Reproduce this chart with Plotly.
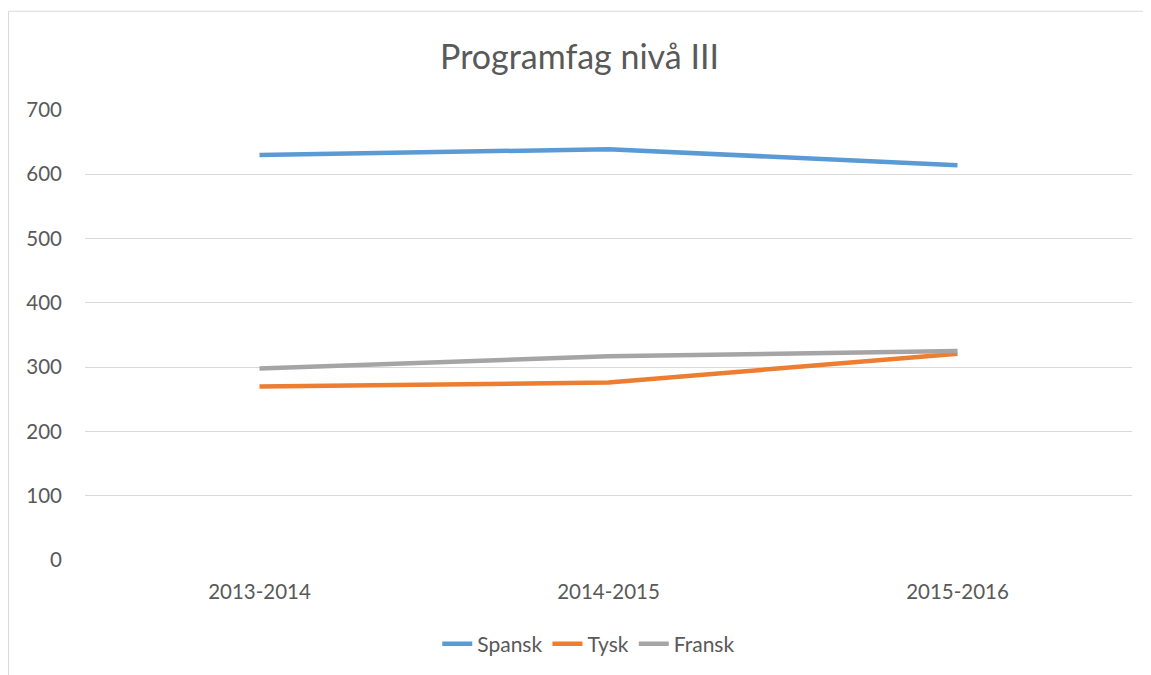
import plotly.graph_objects as go

categories = ["2013-2014", "2014-2015", "2015-2016"]
spansk = [630, 639, 614]
tysk = [270, 276, 321]
fransk = [298, 317, 325]
y_ticks = [0, 100, 200, 300, 400, 500, 600, 700]

colors = {"Spansk": "#5B9BD5", "Tysk": "#ED7D31", "Fransk": "#A5A5A5"}
FONT = "Lato, 'Open Sans', sans-serif"

fig = go.Figure()
for name, vals in [("Spansk", spansk), ("Tysk", tysk), ("Fransk", fransk)]:
    fig.add_trace(go.Scatter(x=categories, y=vals, mode="lines", name=name,
                             line=dict(color=colors[name], width=4.5)))

# page body has an 8px margin; figure sized to fit the window
OFF = 8
W, H = 1143, 667
L, T = 85 - OFF, 110 - OFF
R = W - (1132.5 - OFF)
B = H - (561 - OFF)
pw, ph = W - L - R, H - T - B

def px_to_paper_x(px):
    return (px - OFF - L) / pw

def px_to_paper_y(py):
    return (H - B - (py - OFF)) / ph

fig.add_shape(type="rect", xref="paper", yref="paper",
              x0=px_to_paper_x(8.5), x1=px_to_paper_x(1250),
              y0=px_to_paper_y(760), y1=px_to_paper_y(11),
              line=dict(color="#D9D9D9", width=1), fillcolor="rgba(0,0,0,0)", layer="below")

fig.update_layout(
    width=W, height=H,
    margin=dict(l=L, r=R, t=T, b=B),
    paper_bgcolor="white", plot_bgcolor="white",
    font=dict(family=FONT, color="#595959", size=21),
    title=dict(text="Programfag nivå III", x=0.5, xanchor="center",
               y=1 - (57 - OFF) / H, yanchor="middle",
               font=dict(size=34, color="#595959", family=FONT)),
    xaxis=dict(type="category", range=[-0.5, 2.5], showgrid=False, showline=False,
               zeroline=False, ticks="", ticklabelstandoff=17,
               tickfont=dict(size=20.5, color="#595959")),
    yaxis=dict(range=[0, 700], tickvals=y_ticks, showgrid=True, gridcolor="#D9D9D9",
               gridwidth=1.3, zeroline=False, showline=False, ticks="",
               ticklabelstandoff=22, tickfont=dict(size=20.5, color="#595959")),
    legend=dict(orientation="h", x=px_to_paper_x(589), xanchor="center",
                y=px_to_paper_y(644), yanchor="middle",
                font=dict(size=21, color="#595959"),
                itemwidth=30, tracegroupgap=0),
    showlegend=True,
)

fig.write_html("out.html")
